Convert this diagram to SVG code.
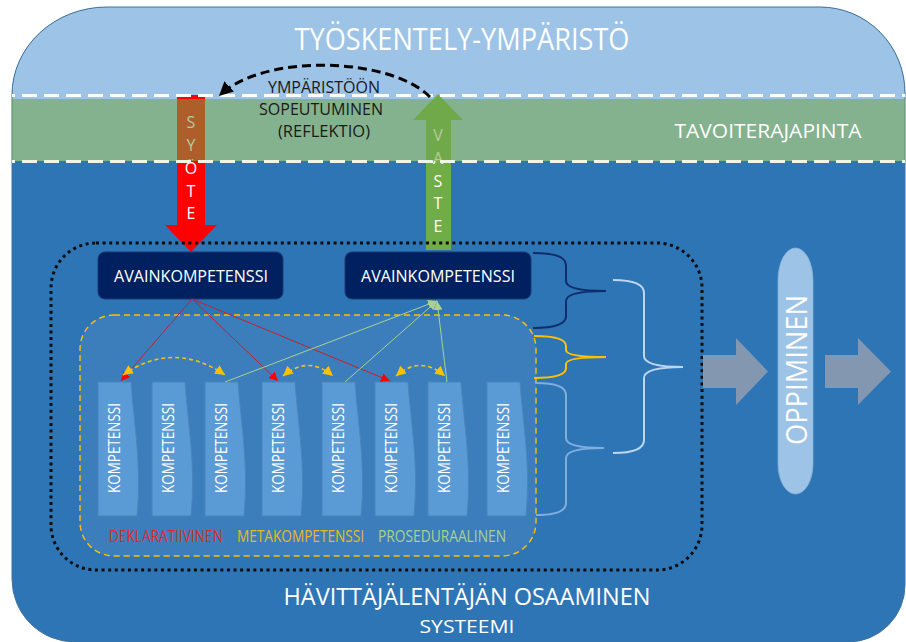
<svg xmlns="http://www.w3.org/2000/svg" width="906" height="642" viewBox="0 0 906 642">
  <style>
    .t { font-family: "Open Sans", "Liberation Sans", sans-serif; fill: #FFFFFF; }
    .tb { font-family: "Open Sans", "Liberation Sans", sans-serif; fill: #1A1A1A; }
    .key { fill: #002060; stroke: #1B3A73; stroke-width: 1; }
    .komp { fill: #5B9BD5; stroke: #4A84BD; stroke-width: 1; }
    .brace { fill: none; stroke-width: 2; }
    .red { stroke: #C8202E; stroke-width: 1; fill: none; }
    .grn { stroke: #A9D18E; stroke-width: 1; fill: none; }
    .meta { stroke: #FFC000; stroke-width: 1.6; stroke-dasharray: 4 3; fill: none; }
  </style>
  <defs>
    <clipPath id="shape">
      <path d="M12 95 A95 88 0 0 1 107 7 H820 A85 86 0 0 1 905 93 V585 A57 57 0 0 1 848 642 H75 A63 63 0 0 1 12 579 Z"/>
    </clipPath>
    <marker id="mRed" viewBox="0 0 10 10" refX="10" refY="5" markerWidth="9" markerHeight="9" markerUnits="userSpaceOnUse" orient="auto">
      <path d="M0 0 L10 5 L0 10 Z" fill="#FF0000"/>
    </marker>
    <marker id="mGrn" viewBox="0 0 10 10" refX="10" refY="5" markerWidth="9" markerHeight="9" markerUnits="userSpaceOnUse" orient="auto">
      <path d="M0 0 L10 5 L0 10 Z" fill="#A9D18E"/>
    </marker>
    <marker id="mYel" viewBox="0 0 10 10" refX="10" refY="5" markerWidth="10" markerHeight="10" markerUnits="userSpaceOnUse" orient="auto-start-reverse">
      <path d="M0 0 L10 5 L0 10 Z" fill="#FFC000"/>
    </marker>
    <marker id="mBlk" viewBox="0 0 10 10" refX="9" refY="5" markerWidth="14" markerHeight="14" markerUnits="userSpaceOnUse" orient="auto">
      <path d="M0 0 L10 5 L0 10 Z" fill="#000000"/>
    </marker>
  </defs>

  <!-- working environment / system background -->
  <g id="environment">
    <g clip-path="url(#shape)">
      <rect x="0" y="0" width="906" height="642" fill="#2E75B6"/>
      <rect x="0" y="0" width="906" height="161" fill="#9DC3E6"/>
    </g>
    <path d="M12 95 A95 88 0 0 1 107 7 H820 A85 86 0 0 1 905 93 V585 A57 57 0 0 1 848 642 H75 A63 63 0 0 1 12 579 Z" fill="none" stroke="#41719C" stroke-width="1"/>
    <text class="t" x="462" y="50" font-size="31" text-anchor="middle" textLength="335" lengthAdjust="spacingAndGlyphs">TYÖSKENTELY-YMPÄRISTÖ</text>
  </g>

  <!-- input arrow -->
  <g id="syote">
    <path d="M177 95 H205 V225 H217 L191 252 L165 225 H177 Z" fill="#FF0000"/>
    <g class="t" font-size="16" text-anchor="middle">
      <text x="191" y="128">S</text>
      <text x="191" y="151">Y</text>
      <text x="191" y="174">Ö</text>
      <text x="191" y="197">T</text>
      <text x="191" y="219">E</text>
    </g>
  </g>

  <!-- response arrow -->
  <g id="vaste">
    <path d="M426 250 V120 H413 L438 94 L463 120 H451 V250 Z" fill="#70AD47"/>
    <g class="t" font-size="16" text-anchor="middle">
      <text x="438" y="141">V</text>
      <text x="438" y="164">A</text>
      <text x="438" y="187">S</text>
      <text x="438" y="209">T</text>
      <text x="438" y="232">E</text>
    </g>
  </g>

  <!-- target interface band -->
  <g id="tavoiterajapinta">
    <g clip-path="url(#shape)">
      <rect x="0" y="99" width="906" height="62" fill="#71A54B" fill-opacity="0.57"/>
      <line x1="0" y1="95.5" x2="906" y2="95.5" stroke="#FFFFFF" stroke-width="3" stroke-dasharray="15 7"/>
      <line x1="0" y1="161.5" x2="906" y2="161.5" stroke="#EEF5E6" stroke-width="3" stroke-dasharray="15 7"/>
    </g>
    <text class="t" x="768" y="138" font-size="19.5" text-anchor="middle" textLength="187" lengthAdjust="spacingAndGlyphs">TAVOITERAJAPINTA</text>
  </g>

  <!-- adaptation loop label -->
  <g id="sopeutuminen">
    <text class="tb" x="324" y="93" font-size="16.5" text-anchor="middle" textLength="112" lengthAdjust="spacingAndGlyphs">YMPÄRISTÖÖN</text>
    <text class="tb" x="321" y="115" font-size="16.5" text-anchor="middle" textLength="124" lengthAdjust="spacingAndGlyphs">SOPEUTUMINEN</text>
    <text class="tb" x="324" y="137" font-size="16.5" text-anchor="middle" textLength="92" lengthAdjust="spacingAndGlyphs">(REFLEKTIO)</text>
  </g>

  <!-- system boundary -->
  <g id="systeemi">
    <rect x="51" y="243" width="651" height="327" rx="45" fill="none" stroke="#0D0D0D" stroke-width="3" stroke-dasharray="3 3.6"/>
    <text class="t" x="467" y="605" font-size="24" text-anchor="middle" textLength="367" lengthAdjust="spacingAndGlyphs">HÄVITTÄJÄLENTÄJÄN OSAAMINEN</text>
    <text class="t" x="467" y="633" font-size="18" text-anchor="middle" textLength="95" lengthAdjust="spacingAndGlyphs">SYSTEEMI</text>
  </g>

  <!-- competence pool -->
  <g id="kompetenssit">
    <rect x="80" y="315" width="456" height="241" rx="34" fill="#FFFFFF" fill-opacity="0.07" stroke="#FFC000" stroke-width="1.4" stroke-dasharray="6 4"/>
  </g>

  <g id="avain1">
    <rect class="key" x="98" y="252" width="185" height="47" rx="7"/>
    <text class="t" x="191" y="282" font-size="17" text-anchor="middle" textLength="154" lengthAdjust="spacingAndGlyphs">AVAINKOMPETENSSI</text>
  </g>
  <g id="avain2">
    <rect class="key" x="345" y="252" width="186" height="47" rx="7"/>
    <text class="t" x="438" y="282" font-size="17" text-anchor="middle" textLength="154" lengthAdjust="spacingAndGlyphs">AVAINKOMPETENSSI</text>
  </g>

  <g id="komp1">
    <path class="komp" d="M98 382 H131 C134 425 142 465 137 516 H98 Z"/>
    <text class="t" transform="translate(114 448) rotate(-90)" font-size="16" text-anchor="middle" dy="6" textLength="90" lengthAdjust="spacingAndGlyphs">KOMPETENSSI</text>
  </g>
  <g id="komp2">
    <path class="komp" d="M152 382 H185 C188 425 196 465 191 516 H152 Z"/>
    <text class="t" transform="translate(168 448) rotate(-90)" font-size="16" text-anchor="middle" dy="6" textLength="90" lengthAdjust="spacingAndGlyphs">KOMPETENSSI</text>
  </g>
  <g id="komp3">
    <path class="komp" d="M205 382 H238 C241 425 249 465 244 516 H205 Z"/>
    <text class="t" transform="translate(221 448) rotate(-90)" font-size="16" text-anchor="middle" dy="6" textLength="90" lengthAdjust="spacingAndGlyphs">KOMPETENSSI</text>
  </g>
  <g id="komp4">
    <path class="komp" d="M262 382 H295 C298 425 306 465 301 516 H262 Z"/>
    <text class="t" transform="translate(278 448) rotate(-90)" font-size="16" text-anchor="middle" dy="6" textLength="90" lengthAdjust="spacingAndGlyphs">KOMPETENSSI</text>
  </g>
  <g id="komp5">
    <path class="komp" d="M322 382 H355 C358 425 366 465 361 516 H322 Z"/>
    <text class="t" transform="translate(338 448) rotate(-90)" font-size="16" text-anchor="middle" dy="6" textLength="90" lengthAdjust="spacingAndGlyphs">KOMPETENSSI</text>
  </g>
  <g id="komp6">
    <path class="komp" d="M375 382 H408 C411 425 419 465 414 516 H375 Z"/>
    <text class="t" transform="translate(391 448) rotate(-90)" font-size="16" text-anchor="middle" dy="6" textLength="90" lengthAdjust="spacingAndGlyphs">KOMPETENSSI</text>
  </g>
  <g id="komp7">
    <path class="komp" d="M428 382 H461 C464 425 472 465 467 516 H428 Z"/>
    <text class="t" transform="translate(444 448) rotate(-90)" font-size="16" text-anchor="middle" dy="6" textLength="90" lengthAdjust="spacingAndGlyphs">KOMPETENSSI</text>
  </g>
  <g id="komp8">
    <path class="komp" d="M487 382 H520 C523 425 531 465 526 516 H487 Z"/>
    <text class="t" transform="translate(503 448) rotate(-90)" font-size="16" text-anchor="middle" dy="6" textLength="90" lengthAdjust="spacingAndGlyphs">KOMPETENSSI</text>
  </g>

  <g id="tyypit" font-family="'Open Sans', 'Liberation Sans', sans-serif" font-size="16">
    <text x="109" y="542" fill="#E8262E" textLength="114" lengthAdjust="spacingAndGlyphs">DEKLARATIIVINEN</text>
    <text x="237" y="542" fill="#E9B81E" textLength="127" lengthAdjust="spacingAndGlyphs">METAKOMPETENSSI</text>
    <text x="378" y="542" fill="#A9D18E" textLength="128" lengthAdjust="spacingAndGlyphs">PROSEDURAALINEN</text>
  </g>

  <!-- grouping braces -->
  <g id="sulkeet">
    <path class="brace" stroke="#0E2D6B" d="M533 253 Q566 253 566 265 V281 Q566 291 606 291 Q566 291 566 301 V316 Q566 328 533 328"/>
    <path class="brace" stroke="#FFC000" d="M534 336 Q566 336 566 346 V350 Q566 357 606 357 Q566 357 566 364 V368 Q566 378 534 378"/>
    <path class="brace" stroke="#7FAEDD" d="M536 383 Q566 383 566 395 V438 Q566 448 604 448 Q566 448 566 458 V503 Q566 515 536 515"/>
    <path class="brace" stroke="#BDD7EE" d="M613 280 Q644 280 644 293 V356 Q644 367 683 367 Q644 367 644 378 V440 Q644 453 613 453"/>
  </g>

  <!-- learning -->
  <g id="oppiminen">
    <path d="M703 355 H736 V338 L768 371.5 L736 405 V388 H703 Z" fill="#8497B0"/>
    <path d="M778 280 A17.5 32 0 0 1 813 280 V464 A17.5 30 0 0 1 778 464 Z" fill="#9DC3E6" stroke="#86AED6" stroke-width="0.8"/>
    <text class="t" transform="translate(796 370) rotate(-90)" font-size="30" text-anchor="middle" dy="10.5" textLength="150" lengthAdjust="spacingAndGlyphs">OPPIMINEN</text>
    <path d="M825 355 H858 V338 L891 371.5 L858 405 V388 H825 Z" fill="#8497B0"/>
  </g>

  <!-- connectors -->
  <g id="connectors">
    <path d="M430 97 C390 57 265 53 220 95" fill="none" stroke="#000000" stroke-width="3" stroke-dasharray="9 5" marker-end="url(#mBlk)"/>
    <line class="red" x1="192" y1="299" x2="121" y2="381" marker-end="url(#mRed)"/>
    <line class="red" x1="192" y1="299" x2="278" y2="381" marker-end="url(#mRed)"/>
    <line class="red" x1="192" y1="299" x2="390" y2="381" marker-end="url(#mRed)"/>
    <line class="grn" x1="225" y1="382" x2="437" y2="301" marker-end="url(#mGrn)"/>
    <line class="grn" x1="345" y1="382" x2="437" y2="301" marker-end="url(#mGrn)"/>
    <line class="grn" x1="447" y1="382" x2="437" y2="301" marker-end="url(#mGrn)"/>
    <path class="meta" d="M123 375 Q173 340 225 375" marker-start="url(#mYel)" marker-end="url(#mYel)"/>
    <path class="meta" d="M283 376 Q308 355 333 376" marker-start="url(#mYel)" marker-end="url(#mYel)"/>
    <path class="meta" d="M396 376 Q420 355 445 376" marker-start="url(#mYel)" marker-end="url(#mYel)"/>
  </g>
</svg>
